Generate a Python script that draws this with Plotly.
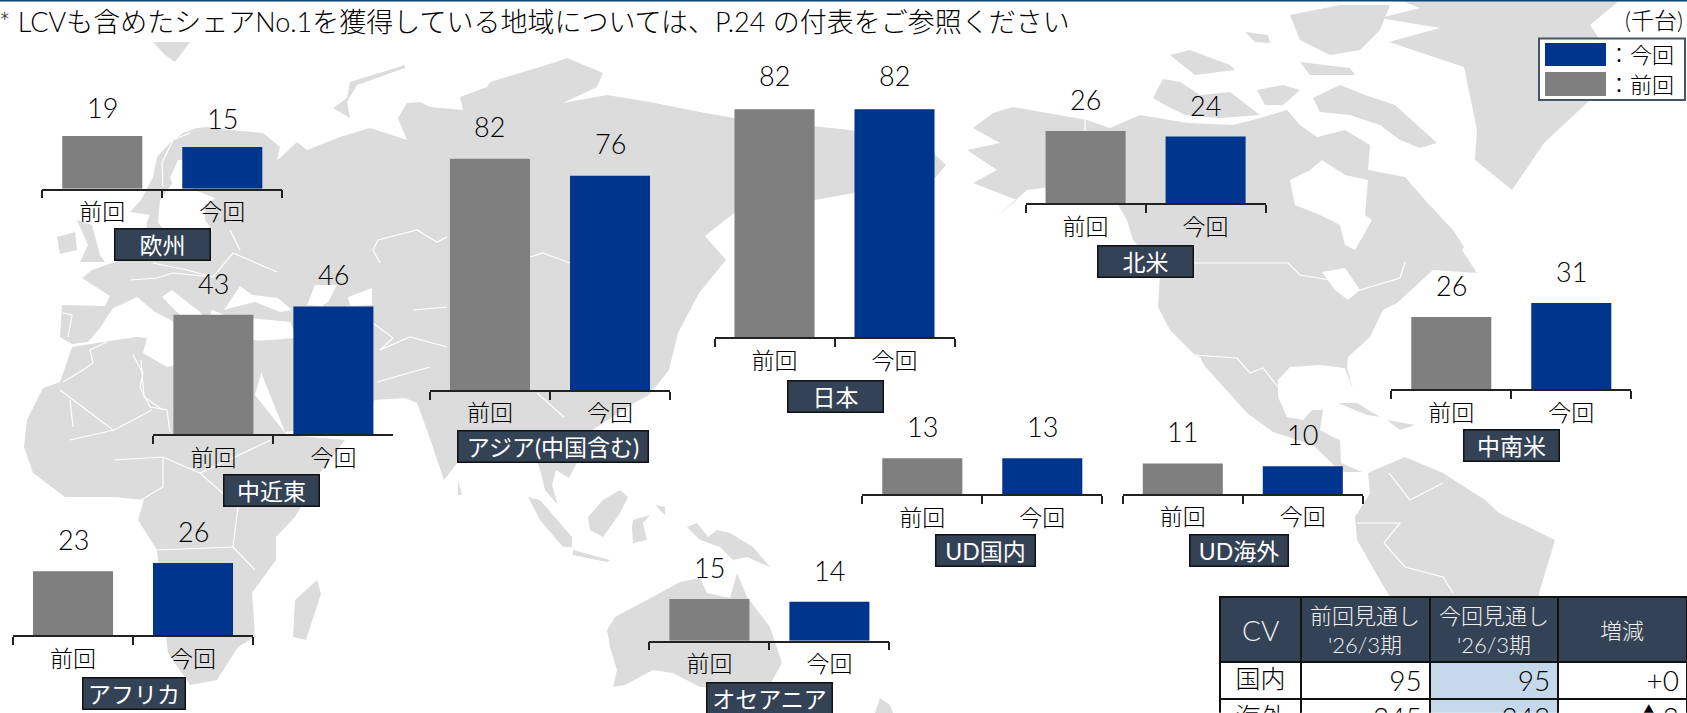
import plotly.graph_objects as go

W, H = 1687, 713
FONT = 'Lato, "Noto Sans CJK JP", sans-serif'
INK = "#000000"
SLATE = "#344255"
GREY = "#7f7f7f"
BLUE = "#00358d"
LAND = "#dcdcdc"
HILITE = "#c5d9ea"
WEIGHT = 300

# ---- data ----
CATEGORIES = ["前回", "今回"]
REGIONS = ["欧州", "中近東", "アジア(中国含む)", "日本", "北米", "中南米", "UD国内", "UD海外", "アフリカ", "オセアニア"]
PREVIOUS = [19, 43, 82, 82, 26, 26, 13, 11, 23, 15]
CURRENT = [15, 46, 76, 82, 24, 31, 13, 10, 26, 14]

TABLE_HEAD = ["CV", "前回見通し<br>'26/3期", "今回見通し<br>'26/3期", "増減"]
TABLE_ROWS = ["国内", "海外"]
TABLE_PREV = [95, 245]
TABLE_CURR = [95, 243]
TABLE_DIFF = ["+0", "▲2"]

NOTE = "* LCVも含めたシェアNo.1を獲得している地域については、P.24 の付表をご参照ください"
UNIT = "(千台)"

# ---- layout of the small charts (pixels): axis left, baseline, px per unit, label centre x, label centre y, label width, value label lift
PANELS = [
    (42.3, 188.7, 2.78, 162.5, 244, 95, 10),
    (153.4, 434.3, 2.78, 271.6, 490.5, 95, 13),
    (430, 390, 2.82, 553, 446.7, 190, 14),
    (714.5, 337.3, 2.78, 835.5, 396.2, 95, 15),
    (1025.6, 203.3, 2.78, 1145.2, 261.2, 95, 13),
    (1391.3, 389.3, 2.78, 1511.4, 445.5, 95, 13),
    (862.3, 494.3, 2.78, 985, 550.3, 99, 13),
    (1122.8, 494, 2.78, 1239.4, 550.3, 98, 13),
    (13, 635.3, 2.78, 133.6, 693, 102, 13),
    (649.4, 640.7, 2.78, 769.7, 698.5, 125, 13),
]
AXIS_W = 240
# table geometry (pixels)
TABLE_LEFT = 1220
TABLE_TOP = 596.7
TABLE_COLS = [80.7, 129, 128.3, 128.7]
TABLE_HEAD_H = 65

# ---- decorative background map (pixel outlines of the land masses) ----
LAND_SHAPES = [
    # Eurasia
    [(60,337),(72,344),(88,342),(100,328),(113,308),(125,303),(137,297),(155,312),(180,325),(183,318),(162,297),(172,290),
     (200,312),(207,322),(212,310),(228,316),(290,322),(297,338),(256,341),(262,375),(285,432),(345,425),(375,400),(405,398),
     (417,403),(428,433),(444,480),(458,462),(470,440),(530,440),(540,470),(545,490),(558,505),(552,485),(556,470),(569,478),
     (581,455),(583,437),(600,425),(634,403),(649,395),(669,370),(678,333),(699,293),(726,260),(705,236),(734,213),(760,200),
     (815,200),(935,178),(946,165),(925,145),(850,130),(734,118),(700,112),(650,102),(607,95),(563,103),(597,87),(603,73),(567,58),
     (553,63),(490,82),(487,87),(460,97),(463,110),(430,107),(420,102),(407,103),(398,118),(407,140),(370,128),(340,137),
     (307,150),(297,142),(280,158),(277,160),(280,147),(263,133),(230,130),(207,127),(197,128),(183,133),(170,143),(157,157),
     (153,177),(141,200),(130,212),(150,215),(147,222),(146,240),(135,250),(115,262),(92,270),(82,278),(110,296),(105,306),(62,305)],
    # Africa
    [(27,420),(43,388),(60,382),(72,347),(103,342),(137,337),(147,338),(143,353),(167,367),(200,360),(253,340),(270,342),(255,395),
     (287,435),(345,440),(320,473),(295,517),(276,537),(276,560),(252,593),(255,637),(238,647),(217,680),(190,685),(168,653),
     (157,550),(138,520),(144,500),(114,497),(65,497),(33,473),(24,447)],
    [(317,580),(321,594),(306,640),(293,637),(295,600)],
    [(57,237),(75,232),(77,250),(60,254)],
    [(77,220),(92,225),(100,255),(105,262),(80,262),(88,245)],
    [(153,42),(190,42),(175,62),(165,55)],
    [(405,65),(350,82),(347,98),(333,108),(350,118),(347,102),(357,85),(405,68)],
    # North America
    [(973,128),(993,113),(1013,107),(1087,120),(1110,128),(1140,115),(1187,123),(1233,125),(1260,118),(1287,110),(1300,125),
     (1317,137),(1345,130),(1370,145),(1368,170),(1405,177),(1425,200),(1453,230),(1464,247),(1462,250),(1477,273),(1433,270),
     (1397,303),(1383,310),(1370,337),(1348,357),(1347,367),(1353,390),(1345,368),(1320,365),(1290,367),(1278,380),(1278,397),
     (1287,417),(1303,420),(1312,410),(1323,410),(1320,430),(1333,437),(1340,440),(1341,463),(1362,472),(1341,472),(1313,445),
     (1273,432),(1247,413),(1193,353),(1170,330),(1158,307),(1160,273),(1133,240),(1127,220),(1117,203),(1090,195),(1050,187),
     (1027,190),(993,220),(1017,200),(973,183),(997,170),(967,150),(1000,143)],
    [(1313,98),(1340,85),(1365,95),(1395,105),(1437,143),(1420,148),(1400,140),(1380,125),(1350,115),(1320,112)],
    [(1153,98),(1163,79),(1180,82),(1200,95),(1230,92),(1260,115),(1220,118),(1185,115),(1165,105)],
    [(1257,90),(1283,85),(1300,90),(1283,105),(1265,105)],
    [(1290,15),(1340,5),(1390,5),(1380,30),(1360,50),(1330,55),(1300,40)],
    [(1170,55),(1190,50),(1230,65),(1235,70),(1195,75)],
    [(1245,32),(1268,35),(1270,43),(1255,42)],
    [(1300,62),(1350,68),(1355,75),(1310,75)],
    # Greenland
    [(1389,42),(1440,28),(1380,18),(1420,8),(1400,0),(1620,0),(1590,25),(1600,40),(1590,100),(1544,143),(1512,190),(1475,160),(1477,130),(1464,67)],
    # Caribbean
    [(1338,403),(1357,403),(1380,417),(1367,415)],
    [(1387,420),(1415,425),(1400,430)],
    # South America
    [(1368,473),(1405,457),(1443,473),(1485,500),(1499,513),(1555,540),(1549,560),(1539,593),(1536,620),(1405,620),(1384,587),
     (1357,540),(1355,517),(1370,493)],
    # Oceania and islands
    [(607,630),(615,617),(647,600),(680,582),(700,578),(707,593),(730,598),(737,573),(747,597),(770,627),(782,663),(767,690),
     (747,700),(707,687),(700,687),(673,673),(653,670),(625,685),(613,687),(617,670),(610,647)],
    [(687,527),(697,523),(708,537),(717,530),(730,533),(753,547),(770,567),(747,557),(733,560),(720,547),(700,540)],
    [(588,517),(603,500),(620,490),(628,497),(620,513),(603,537),(590,530)],
    [(528,497),(540,500),(572,537),(572,547),(563,547),(540,520)],
    [(573,550),(610,560),(607,562),(573,555)],
    [(633,520),(650,515),(643,523),(647,540),(633,543),(632,527)],
    [(655,505),(665,507),(665,515)],
    [(458,480),(462,495),(458,495)],
    [(875,713),(880,698),(890,705),(893,713)],
]
SEA_SHAPES = [
    [(160,200),(175,180),(195,190),(215,198),(205,205),(205,220),(213,231),(190,232),(165,232),(158,222)],
    [(178,195),(170,178),(178,160),(184,160),(184,190)],
    [(224,310),(232,298),(240,286),(252,295),(278,298),(292,310),(280,312),(255,302),(235,307)],
    [(307,305),(315,285),(337,285),(328,302),(322,306)],
    [(348,297),(372,288),(372,305),(350,306)],
    [(1290,180),(1310,170),(1322,160),(1345,175),(1368,180),(1365,215),(1372,220),(1355,250),(1345,245),(1340,225),(1320,215),(1295,205)],
    [(1193,355),(1200,357),(1222,400),(1215,395)],
    [(1322,272),(1345,268),(1360,290),(1348,300),(1335,290)],
]
BORDERS = [
    [(380,263),(373,250),(378,240),(417,230),(437,242),(447,237)],
    [(1193,263),(1288,263),(1300,275),(1330,280),(1360,290),(1400,278),(1405,262)],
    [(1193,355),(1237,358),(1250,373),(1263,368),(1278,387)],
    [(1085,120),(1085,131)],
    [(60,390),(113,430)], [(70,400),(73,427)],
    [(63,382),(83,370),(93,363),(90,350),(107,342)],
    [(133,355),(143,373),(140,387),(150,407),(167,410),(170,432)],
    [(141,360),(144,397),(163,410)],
    [(163,457),(163,487),(141,500)],
    [(200,473),(238,507),(233,547),(255,570)],
    [(233,547),(157,550)],
    [(114,460),(163,457),(200,473),(271,440)],
    [(152,410),(114,430),(70,440)],
    [(373,323),(393,338),(380,350),(410,337),(447,347)],
    [(413,310),(447,307)], [(377,382),(430,367)],
    [(530,257),(543,253),(570,263)], [(537,393),(564,417)],
    [(130,280),(157,278),(173,273),(213,277),(233,253),(277,272)],
    [(153,263),(187,270),(213,277)], [(240,250),(230,230)],
    [(63,313),(72,315),(68,337)],
    [(163,187),(162,163),(173,140),(190,133)],
    [(1389,473),(1410,500),(1443,483)],
    [(1384,543),(1405,567),(1443,577),(1453,593)],
    [(1357,523),(1400,523),(1384,543)],
]


def px(x):
    return x / W


def py(y):
    return 1 - y / H


def path(points, close=True):
    body = "L".join(f"{px(x):.5f},{py(y):.5f}" for x, y in points)
    return "M" + body + ("Z" if close else "")


shapes = []
for poly in LAND_SHAPES:
    shapes.append(dict(type="path", xref="paper", yref="paper", path=path(poly), fillcolor=LAND, line_width=0, layer="below"))
for poly in SEA_SHAPES:
    shapes.append(dict(type="path", xref="paper", yref="paper", path=path(poly), fillcolor="white", line_width=0, layer="below"))
for line in BORDERS:
    shapes.append(dict(type="path", xref="paper", yref="paper", path=path(line, False), line=dict(color="white", width=1.2), layer="below"))


def rect(x0, y0, x1, y1, fill, line=None, lw=0):
    return dict(type="rect", xref="paper", yref="paper", x0=px(x0), x1=px(x1), y0=py(y1), y1=py(y0),
                fillcolor=fill, line=dict(color=line or fill, width=lw), layer="above")


shapes.append(rect(0, 0, W, 1.5, "#0f4577"))
shapes.append(rect(1539, 38.5, 1685, 100, "white", "#44546a", 2))
shapes.append(rect(1545, 43, 1606, 66, BLUE))
shapes.append(rect(1545, 72, 1606, 96, GREY))


def text(x, y, s, size, color=INK, xanchor="center", weight=WEIGHT, **kw):
    return dict(xref="paper", yref="paper", x=px(x), y=py(y), text=s, showarrow=False, xanchor=xanchor, yanchor="middle",
                font=dict(family=FONT, size=size, color=color, weight=weight), **kw)


annotations = [
    text(-3, 21, NOTE, 27, xanchor="left"),
    text(1685, 20, UNIT, 23, xanchor="right"),
    text(1606, 54.5, "：今回", 22, xanchor="left"),
    text(1606, 84, "：前回", 22, xanchor="left"),
]

fig = go.Figure()
layout = {}
for i, (left, base, unit, lx, ly, lw, lift) in enumerate(PANELS):
    n = i + 1
    xn, yn = ("x", "y") if n == 1 else (f"x{n}", f"y{n}")
    xk, yk = ("xaxis", "yaxis") if n == 1 else (f"xaxis{n}", f"yaxis{n}")
    vals = [PREVIOUS[i], CURRENT[i]]
    top = max(vals) * 1.02
    fig.add_trace(go.Bar(x=CATEGORIES, y=vals, xaxis=xn, yaxis=yn, marker=dict(color=[GREY, BLUE], line_width=0),
                         width=0.667, showlegend=False, hoverinfo="x+y"))
    layout[xk] = dict(domain=[px(left), px(left + AXIS_W)], anchor=yn, type="category", categoryorder="array",
                      categoryarray=CATEGORIES, range=[-0.5, 1.5], showline=True, linecolor="#222222", linewidth=1.5,
                      ticks="outside", tickson="boundaries", ticklen=8, tickwidth=1.5, tickcolor="#222222",
                      showgrid=False, zeroline=False, tickangle=0, ticklabelstandoff=2,
                      tickfont=dict(family=FONT, size=23, color=INK, weight=WEIGHT))
    layout[yk] = dict(domain=[py(base), py(base - top * unit)], anchor=xn, range=[0, top], visible=False,
                      showgrid=False, zeroline=False)
    for cat, v in zip(CATEGORIES, vals):
        annotations.append(dict(xref=xn, yref=yn, x=cat, y=v, text=str(v), showarrow=False, yanchor="bottom", yshift=lift,
                                font=dict(family=FONT, size=27, color=INK, weight=WEIGHT)))
    annotations.append(text(lx, ly, REGIONS[i], 23, color="white", weight=400, bgcolor=SLATE, bordercolor="#111111",
                            borderwidth=1.5, width=lw - 3, height=28, valign="middle", align="center"))

# table header text is centred over the header cells
cx = TABLE_LEFT
for head, cw, size in zip(TABLE_HEAD, TABLE_COLS, [28, 22, 22, 22]):
    annotations.append(text(cx + cw / 2, TABLE_TOP + TABLE_HEAD_H / 2 + 1, head, size, color="#f0f0f0", align="center"))
    cx += cw

fig.add_trace(go.Table(
    domain=dict(x=[px(TABLE_LEFT), 1], y=[0, py(TABLE_TOP)]),
    columnwidth=TABLE_COLS,
    header=dict(values=["", "", "", ""], fill_color=SLATE, line=dict(color="#111111", width=2), align="center",
                height=TABLE_HEAD_H, font=dict(family=FONT, size=14, color="#f0f0f0")),
    cells=dict(values=[TABLE_ROWS, TABLE_PREV, TABLE_CURR, TABLE_DIFF],
               fill_color=["white", "white", HILITE, "white"], line=dict(color="#111111", width=2),
               align=["center", "right", "right", "right"], height=37.6,
               font=dict(family=FONT, size=[25, 28, 28, 28], color=INK, weight=WEIGHT)),
))

fig.update_layout(width=W, height=H, margin=dict(l=0, r=0, t=0, b=0), autosize=False, paper_bgcolor="white",
                  plot_bgcolor="rgba(0,0,0,0)", bargap=0.333, shapes=shapes, annotations=annotations,
                  font=dict(family=FONT, color=INK), **layout)
fig.write_html("out.html", config={"displayModeBar": False},
               post_script="document.body.style.margin='0';document.body.style.overflow='hidden';")
